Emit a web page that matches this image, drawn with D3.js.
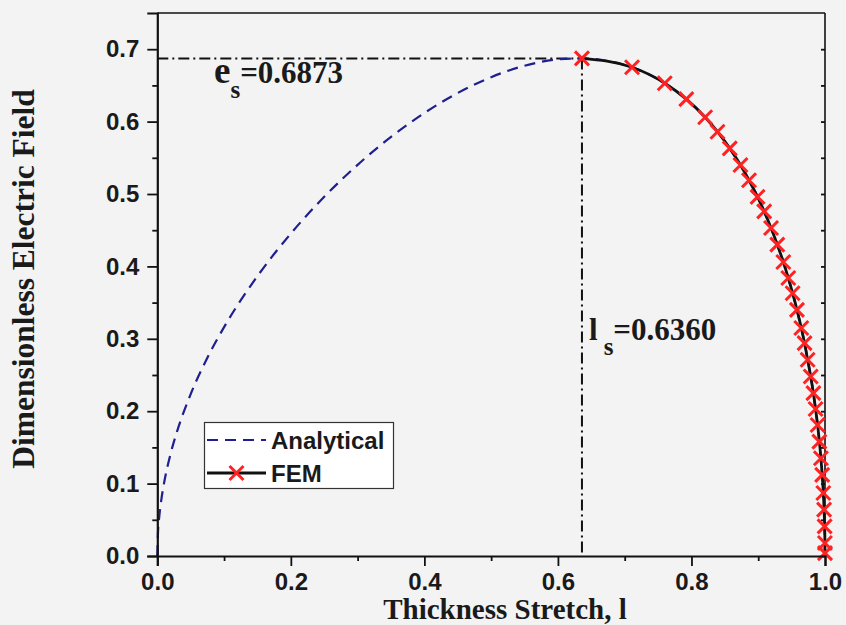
<!DOCTYPE html>
<html>
<head>
<meta charset="utf-8">
<script src="https://cdn.jsdelivr.net/npm/d3@7"></script>
<style>
  html, body { margin: 0; padding: 0; background: #f3f3f3; }
  svg { display: block; }
</style>
</head>
<body>
<svg id="chart" width="846" height="625"></svg>
<script>
// Thickness stretch vs dimensionless electric field
const analyticalX = [0, 0.001, 0.003, 0.006, 0.01, 0.02, 0.03, 0.05, 0.075, 0.1, 0.15, 0.2, 0.25, 0.3, 0.35, 0.4, 0.45, 0.5, 0.55, 0.6, 0.636, 0.68, 0.72, 0.76, 0.8, 0.84, 0.88, 0.91, 0.94, 0.96, 0.975, 0.985, 0.992, 0.996, 0.999, 1.0];
const analyticalY = [0, 0.0316, 0.0548, 0.0775, 0.1, 0.1414, 0.1732, 0.2236, 0.2738, 0.3161, 0.3866, 0.4454, 0.4961, 0.5403, 0.5788, 0.6119, 0.6395, 0.6614, 0.6771, 0.6859, 0.6873, 0.6828, 0.6718, 0.6530, 0.6248, 0.5849, 0.5294, 0.4735, 0.3991, 0.3327, 0.2670, 0.2090, 0.1536, 0.1091, 0.0547, 0];

const femX = [0.636, 0.711, 0.760, 0.7923, 0.8205, 0.839, 0.8574, 0.8734, 0.8862, 0.899, 0.9089, 0.9192, 0.9286, 0.9376, 0.945, 0.9515, 0.958, 0.9645, 0.9694, 0.974, 0.9786, 0.9826, 0.9859, 0.9889, 0.9916, 0.9939, 0.9958, 0.9975, 0.99863, 0.99944, 0.99989, 1.0];
const femY = [0.6873, 0.675, 0.653, 0.631, 0.606, 0.586, 0.563, 0.540, 0.519, 0.496, 0.476, 0.453, 0.430, 0.406, 0.384, 0.363, 0.340, 0.315, 0.294, 0.271, 0.248, 0.225, 0.203, 0.181, 0.158, 0.135, 0.112, 0.087, 0.064, 0.041, 0.018, 0.004];

const xTicks = [0, 0.2, 0.4, 0.6, 0.8, 1.0];
const xMinorTicks = [0.1, 0.3, 0.5, 0.7, 0.9];
const yTicks = [0, 0.1, 0.2, 0.3, 0.4, 0.5, 0.6, 0.7];
const yMinorTicks = [0.05, 0.15, 0.25, 0.35, 0.45, 0.55, 0.65];

const criticalStretch = 0.6360;
const criticalField = 0.6873;

const seriesNames = ["Analytical", "FEM"];
const xTitle = "Thickness Stretch, l";
const yTitle = "Dimensionless Electric Field";

const svg = d3.select("#chart");
const plotLeft = 157.3, plotRight = 825, plotTop = 13, plotBottom = 556;

const x = d3.scaleLinear().domain([0, 1.0]).range([plotLeft, plotRight]);
const y = d3.scaleLinear().domain([0, 0.75]).range([plotBottom, plotTop]);

const sans = "'Liberation Sans', Arial, sans-serif";
const serif = "'Liberation Serif', 'Times New Roman', serif";

// frame: top and right edges
svg.append("line").attr("x1", plotLeft).attr("x2", plotRight).attr("y1", plotTop).attr("y2", plotTop)
  .attr("stroke", "#111").attr("stroke-width", 1.6);
svg.append("line").attr("x1", plotRight).attr("x2", plotRight).attr("y1", plotTop).attr("y2", plotBottom)
  .attr("stroke", "#111").attr("stroke-width", 1.6);

// small inward ticks on the right edge
svg.append("g").attr("transform", `translate(${plotRight},0)`)
  .call(d3.axisRight(y).tickValues(yTicks.concat(yMinorTicks)).tickSize(-4).tickFormat(""))
  .call(g => g.select(".domain").remove())
  .call(g => g.selectAll("line").attr("stroke", "#111").attr("stroke-width", 1.2));

// reference lines at the critical point
svg.append("line")
  .attr("x1", x(0)).attr("x2", x(criticalStretch))
  .attr("y1", y(criticalField)).attr("y2", y(criticalField))
  .attr("stroke", "#111").attr("stroke-width", 2).attr("stroke-dasharray", "11,4,2,4");
svg.append("line")
  .attr("x1", x(criticalStretch)).attr("x2", x(criticalStretch))
  .attr("y1", y(criticalField)).attr("y2", y(0))
  .attr("stroke", "#111").attr("stroke-width", 2).attr("stroke-dasharray", "11,4,2,4");

// analytical curve
const analytical = analyticalX.map((v, i) => [v, analyticalY[i]]);
svg.append("path")
  .datum(analytical)
  .attr("fill", "none")
  .attr("stroke", "#1f1f8f")
  .attr("stroke-width", 2.2)
  .attr("stroke-dasharray", "11,7")
  .attr("d", d3.line().x(d => x(d[0])).y(d => y(d[1])).curve(d3.curveMonotoneX));

// FEM line and markers
const fem = femX.map((v, i) => [v, femY[i]]);
svg.append("path")
  .datum(fem)
  .attr("fill", "none")
  .attr("stroke", "#111")
  .attr("stroke-width", 2.8)
  .attr("d", d3.line().x(d => x(d[0])).y(d => y(d[1])).curve(d3.curveMonotoneX));

const cross = "M-7,-7L7,7M-7,7L7,-7";
svg.append("g").selectAll("path")
  .data(fem)
  .join("path")
  .attr("transform", d => `translate(${x(d[0])},${y(d[1])})`)
  .attr("d", cross)
  .attr("fill", "none")
  .attr("stroke", "#ff2222")
  .attr("stroke-width", 3);

// left axis
svg.append("g").attr("transform", `translate(${plotLeft},0)`)
  .call(d3.axisLeft(y).tickValues(yTicks).tickSize(10).tickPadding(8).tickFormat(d3.format(".1f")));
svg.append("g").attr("transform", `translate(${plotLeft},0)`)
  .call(d3.axisLeft(y).tickValues(yMinorTicks).tickSize(5).tickFormat(""))
  .call(g => g.select(".domain").remove());

// bottom axis
svg.append("g").attr("transform", `translate(0,${plotBottom})`)
  .call(d3.axisBottom(x).tickValues(xTicks).tickSize(10).tickPadding(7).tickFormat(d3.format(".1f")));
svg.append("g").attr("transform", `translate(0,${plotBottom})`)
  .call(d3.axisBottom(x).tickValues(xMinorTicks).tickSize(5).tickFormat(""))
  .call(g => g.select(".domain").remove());

svg.selectAll(".domain").attr("stroke", "#111").attr("stroke-width", 2.2);
svg.selectAll(".tick line").attr("stroke", "#111").attr("stroke-width", 1.8);
svg.selectAll(".tick text")
  .attr("font-family", sans).attr("font-weight", "bold").attr("font-size", 24).attr("fill", "#1a1a1a");

// axis titles
svg.append("text")
  .attr("x", 505).attr("y", 619)
  .attr("text-anchor", "middle")
  .attr("font-family", serif).attr("font-weight", "bold").attr("font-size", 29).attr("fill", "#1a1a1a")
  .text(xTitle);
svg.append("text")
  .attr("transform", "translate(34,279) rotate(-90)")
  .attr("text-anchor", "middle")
  .attr("font-family", serif).attr("font-weight", "bold").attr("font-size", 31.5).attr("fill", "#1a1a1a")
  .text(yTitle);

// critical value annotations
const eLabel = svg.append("text").attr("x", 214).attr("y", 83)
  .attr("font-family", serif).attr("font-weight", "bold").attr("fill", "#1a1a1a");
eLabel.append("tspan").attr("font-size", 37).text("e");
eLabel.append("tspan").attr("font-size", 25).attr("dy", 15).text("s");
eLabel.append("tspan").attr("font-size", 31).attr("dy", -15).text("=" + criticalField.toFixed(4));

const lLabel = svg.append("text").attr("x", 589).attr("y", 340)
  .attr("font-family", serif).attr("font-weight", "bold").attr("fill", "#1a1a1a");
lLabel.append("tspan").attr("font-size", 31).text("l");
lLabel.append("tspan").attr("font-size", 25).attr("dx", 6).attr("dy", 15).text("s");
lLabel.append("tspan").attr("font-size", 31).attr("dy", -15).text("=" + criticalStretch.toFixed(4));

// legend
const legend = svg.append("g");
legend.append("rect")
  .attr("x", 204.5).attr("y", 422.5).attr("width", 189).attr("height", 66)
  .attr("fill", "#ffffff").attr("stroke", "#333").attr("stroke-width", 1.2);
legend.append("line")
  .attr("x1", 207).attr("x2", 266).attr("y1", 440).attr("y2", 440)
  .attr("stroke", "#1f1f8f").attr("stroke-width", 2.2).attr("stroke-dasharray", "11,7");
legend.append("line")
  .attr("x1", 207).attr("x2", 266).attr("y1", 473).attr("y2", 473)
  .attr("stroke", "#111").attr("stroke-width", 2.8);
legend.append("path")
  .attr("transform", "translate(236.5,473)")
  .attr("d", cross).attr("fill", "none").attr("stroke", "#ff2222").attr("stroke-width", 3);
legend.selectAll("text.lbl")
  .data(seriesNames)
  .join("text")
  .attr("class", "lbl")
  .attr("x", 271).attr("y", (d, i) => 448.5 + i * 33)
  .attr("font-family", sans).attr("font-weight", "bold").attr("font-size", 24).attr("fill", "#1a1a1a")
  .text(d => d);
</script>
</body>
</html>
